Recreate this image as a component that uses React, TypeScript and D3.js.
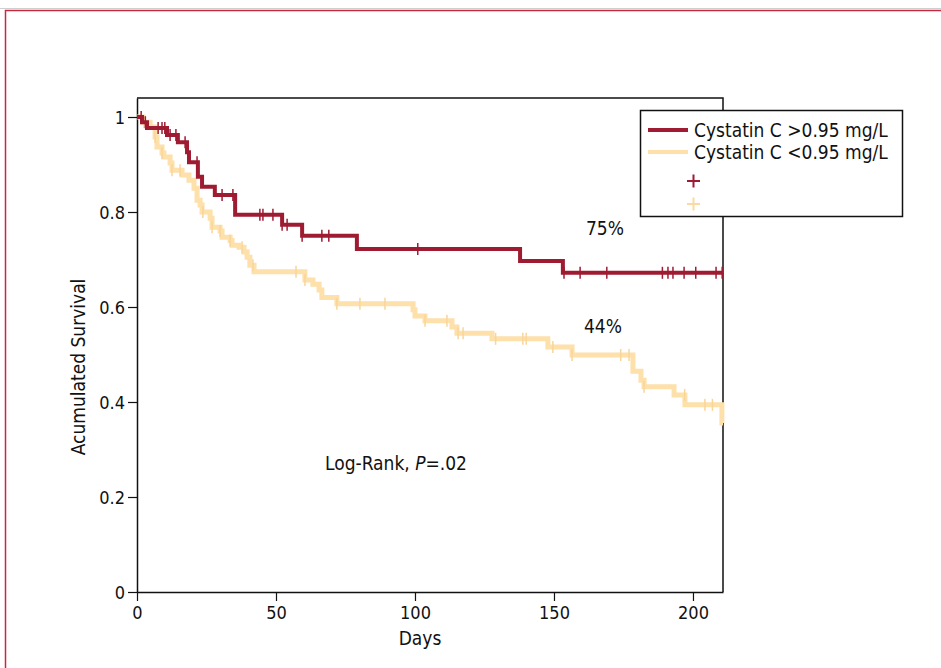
import React from "react";
import * as d3 from "d3";

// step points: [day, survival]
const highTimes = [0, 1.8, 3.6, 10.8, 14.7, 18.0, 18.7, 21.9, 23.4, 28.0, 35.3, 52.2, 59.4, 79.1, 137.8, 153.2, 210.8];
const highSurv = [1.0, 0.989, 0.977, 0.962, 0.947, 0.926, 0.905, 0.874, 0.853, 0.836, 0.794, 0.773, 0.75, 0.722, 0.697, 0.672, 0.672];
const highCensor = [1.5, 3, 7.6, 9, 10, 11.9, 14, 17.3, 21.6, 30.6, 34.5, 44.2, 45.3, 48.9, 52.2, 54, 59.4, 66.5, 69, 101, 153.6, 159.4, 169, 189, 191, 192.8, 196.8, 201, 208.3, 210.5];

const lowTimes = [0, 2.2, 4.7, 6.5, 7.2, 9.0, 9.7, 11.9, 12.6, 16.2, 18.7, 20.5, 21.6, 22.7, 23.4, 26.3, 27.0, 29.9, 30.6, 33.5, 34.2, 36.7, 38.5, 39.6, 40.6, 42.1, 60.4, 63.3, 65.5, 66.5, 71.9, 99.3, 100.0, 103.6, 113.3, 115.1, 127.7, 147.8, 156.5, 178.4, 181.3, 182.4, 193.2, 197.1, 210.4, 210.8];
const lowSurv = [1.0, 0.989, 0.979, 0.958, 0.937, 0.924, 0.916, 0.903, 0.888, 0.878, 0.867, 0.85, 0.825, 0.815, 0.8, 0.787, 0.768, 0.76, 0.747, 0.74, 0.73, 0.726, 0.716, 0.705, 0.688, 0.674, 0.657, 0.648, 0.636, 0.62, 0.607, 0.594, 0.581, 0.571, 0.558, 0.545, 0.533, 0.516, 0.499, 0.465, 0.446, 0.432, 0.415, 0.394, 0.356, 0.356];
const lowCensor = [2.5, 6.5, 9, 12.6, 15.5, 23.7, 27, 29.9, 33.5, 37.8, 41.7, 57.2, 60.4, 71.9, 80.2, 89.2, 103.6, 111.5, 115.5, 117.3, 129, 138.8, 140, 149.6, 156.5, 174, 177, 182.4, 197, 204.3, 207];

const xTicks = [0, 50, 100, 150, 200];
const yTicks = [0, 0.2, 0.4, 0.6, 0.8, 1];
const legendLabels = ["Cystatin C >0.95 mg/L", "Cystatin C <0.95 mg/L"];

const RED = "#9e1b32";
const YELLOW = "#fde0aa";
const FONT = "'Liberation Sans Narrow', 'DejaVu Sans Condensed', 'Liberation Sans', Arial, sans-serif";

const App = () => {
  const svgRef = React.useRef<SVGSVGElement>(null);

  React.useEffect(() => {
    const svg = d3.select(svgRef.current);
    svg.selectAll("*").remove();

    const x = d3.scaleLinear().domain([0, 210.8]).range([137, 723]);
    const y = d3.scaleLinear().domain([0, 1.04]).range([592, 98]);

    // outer page border
    svg.append("line").attr("x1", 0).attr("x2", 941).attr("y1", 8.5).attr("y2", 8.5)
      .attr("stroke", "#cfcfcf").attr("stroke-width", 1);
    svg.append("path").attr("d", "M945,10.5 H5.5 V672")
      .attr("fill", "none").attr("stroke", "#c8283f").attr("stroke-width", 1.5);

    // frame top + right
    svg.append("path")
      .attr("d", `M${x(0)},${y(1.04)} H${x(210.8)} V${y(0)}`)
      .attr("fill", "none").attr("stroke", "#111").attr("stroke-width", 1.5);

    // axes
    const yAxis = svg.append("g")
      .attr("transform", `translate(${x(0)},0)`)
      .call(d3.axisLeft(y).tickValues(yTicks).tickSize(9).tickSizeOuter(0)
        .tickFormat((d: any) => (d === 0 || d === 1 ? String(d) : d3.format(".1f")(d))));
    const xAxis = svg.append("g")
      .attr("transform", `translate(0,${y(0)})`)
      .call(d3.axisBottom(x).tickValues(xTicks).tickSize(9).tickSizeOuter(0));
    [yAxis, xAxis].forEach((g) => {
      g.select(".domain").attr("stroke", "#111").attr("stroke-width", 1.5);
      g.selectAll(".tick line").attr("stroke", "#111").attr("stroke-width", 1.2);
      g.selectAll(".tick text").attr("fill", "#111").attr("font-size", 18).attr("font-family", FONT);
    });
    yAxis.selectAll(".tick text").attr("x", -12).attr("dy", "0.36em");
    xAxis.selectAll(".tick text").attr("y", 14);

    // axis titles
    svg.append("text").attr("x", 420).attr("y", 645).attr("text-anchor", "middle")
      .attr("font-size", 19).attr("font-family", FONT).attr("fill", "#111").text("Days");
    svg.append("text").attr("transform", "translate(85,367) rotate(-90)").attr("text-anchor", "middle")
      .attr("font-size", 19).attr("font-family", FONT).attr("fill", "#111").text("Acumulated Survival");

    const drawGroup = (times: number[], surv: number[], censor: number[], color: string, w: number, tickColor: string) => {
      const pts: [number, number][] = times.map((t, i) => [x(t), y(surv[i])]);
      svg.append("path")
        .attr("d", d3.line().curve(d3.curveStepAfter)(pts))
        .attr("fill", "none").attr("stroke", color).attr("stroke-width", w);
      const survAt = (t: number) => {
        let s = surv[0];
        for (let i = 0; i < times.length; i++) if (times[i] <= t) s = surv[i];
        return s;
      };
      svg.append("g").selectAll("line").data(censor).join("line")
        .attr("x1", (d) => x(d)).attr("x2", (d) => x(d))
        .attr("y1", (d) => y(survAt(d)) - 6).attr("y2", (d) => y(survAt(d)) + 6)
        .attr("stroke", tickColor).attr("stroke-width", 1.5);
    };

    drawGroup(lowTimes, lowSurv, lowCensor, YELLOW, 5, "#f9d59a");
    drawGroup(highTimes, highSurv, highCensor, RED, 4, RED);

    // annotations
    svg.append("text").attr("x", 605).attr("y", 235).attr("text-anchor", "middle")
      .attr("font-size", 19).attr("font-family", FONT).attr("fill", "#111").text("75%");
    svg.append("text").attr("x", 603).attr("y", 333).attr("text-anchor", "middle")
      .attr("font-size", 19).attr("font-family", FONT).attr("fill", "#111").text("44%");
    const lr = svg.append("text").attr("x", 325).attr("y", 470)
      .attr("font-size", 19).attr("font-family", FONT).attr("fill", "#111");
    lr.append("tspan").text("Log-Rank, ");
    lr.append("tspan").attr("font-style", "italic").text("P");
    lr.append("tspan").text("=.02");

    // legend
    const lg = svg.append("g");
    lg.append("rect").attr("x", 640.5).attr("y", 110.5).attr("width", 262).attr("height", 106)
      .attr("fill", "#fff").attr("stroke", "#111").attr("stroke-width", 1.5);
    [RED, YELLOW].forEach((c, i) => {
      const ly = 130 + i * 22;
      lg.append("line").attr("x1", 648).attr("x2", 688).attr("y1", ly).attr("y2", ly)
        .attr("stroke", c).attr("stroke-width", 4);
      lg.append("text").attr("x", 694).attr("y", ly + 7).attr("font-size", 19).attr("font-family", FONT)
        .attr("fill", "#111").text(legendLabels[i]);
      const py = 181 + i * 23;
      lg.append("path").attr("d", `M687,${py} H700 M693.5,${py - 6.5} V${py + 6.5}`)
        .attr("stroke", i === 0 ? RED : "#fcd9a0").attr("stroke-width", 2);
    });
  }, []);

  return (
    <svg ref={svgRef} width={941} height={668}
      style={{ position: "absolute", left: 0, top: 0, background: "#fff" }} />
  );
};

export default App;
